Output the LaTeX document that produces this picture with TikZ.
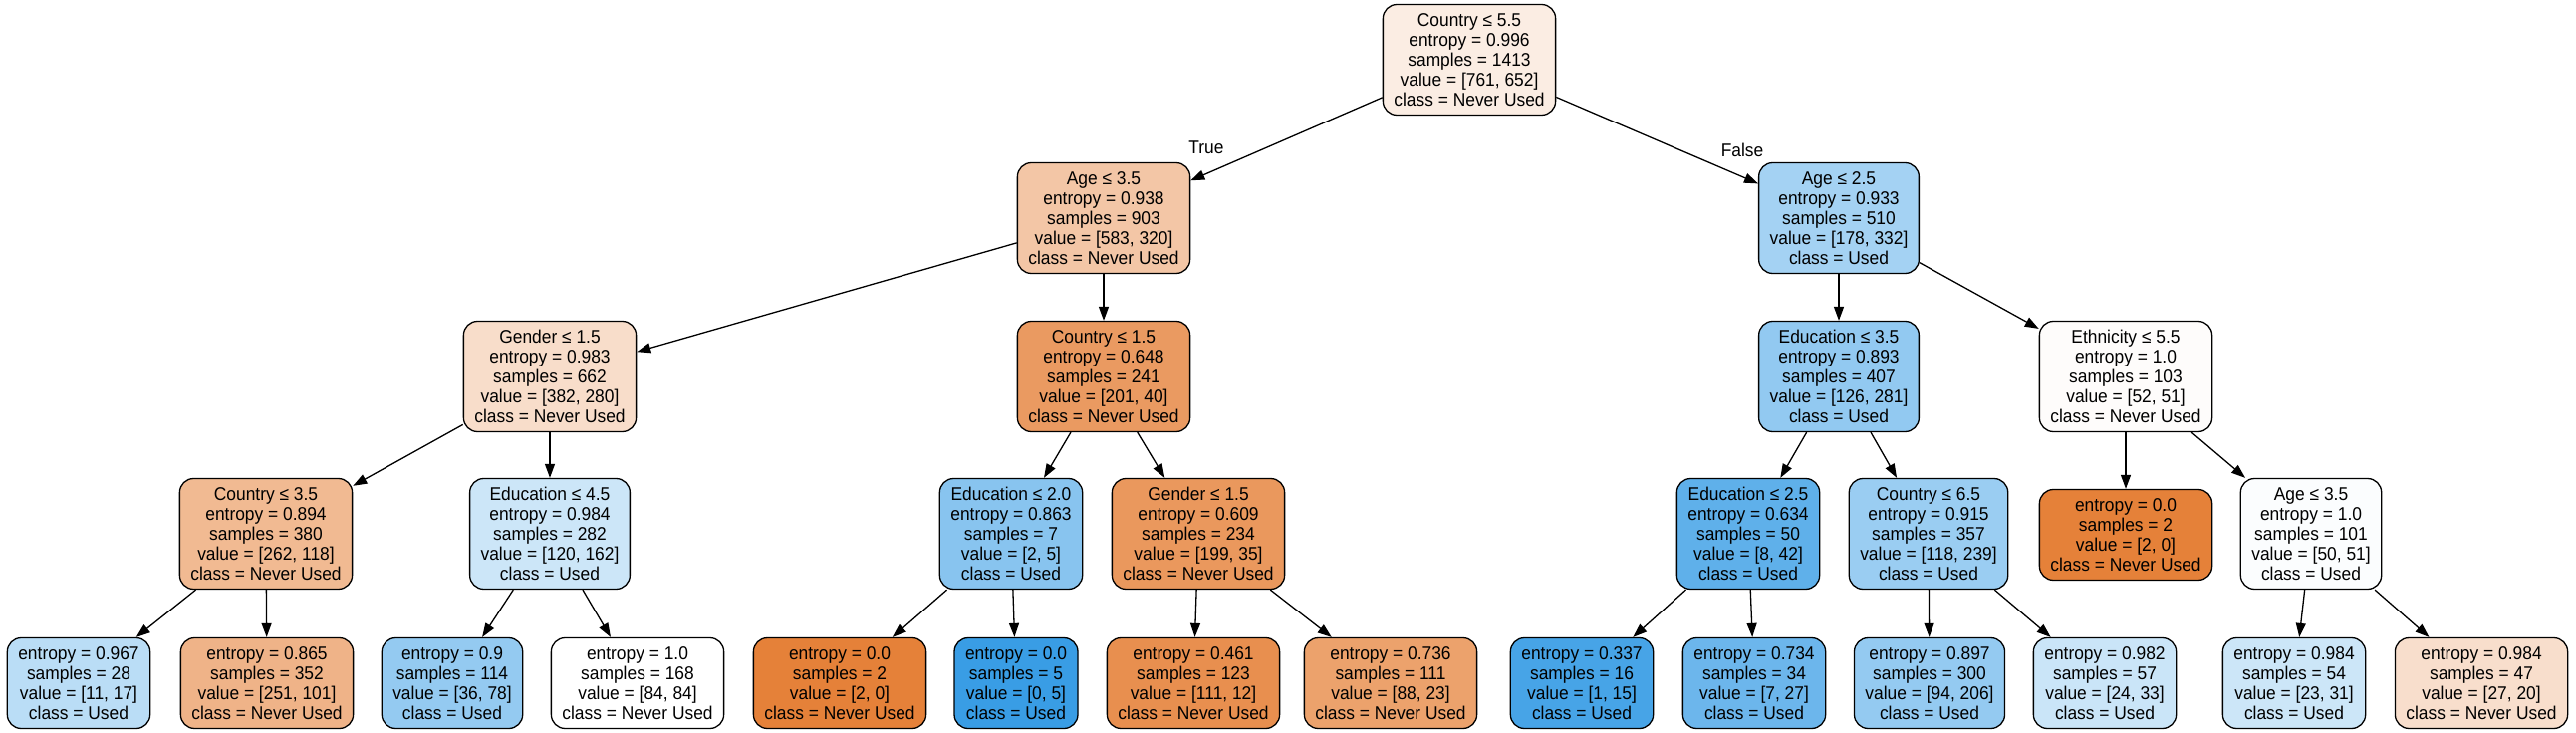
\documentclass[tikz,border=0pt]{standalone}
\usepackage{fontspec}
\setmainfont{Liberation Sans}[FakeStretch=0.94]
\usetikzlibrary{arrows.meta}
\definecolor{cO}{RGB}{229,129,57}
\definecolor{cB}{RGB}{57,157,229}
\newcommand\treefont{\fontsize{18.5}{20}\selectfont}
\tikzset{
  box/.style={draw, rounded corners=14pt, line width=1.3pt, align=center,
    inner xsep=11pt, inner ysep=0pt, font=\treefont},
  intn/.style={box, minimum height=111pt},
  leafn/.style={box, minimum height=91pt},
  conn/.style={-{Triangle[length=14pt,width=10pt]}, line width=1.3pt},
  elab/.style={font=\treefont, inner sep=0pt}
}
\begin{document}
\begin{tikzpicture}[x=1pt,y=-1pt]
\useasboundingbox (0,0) rectangle (2586,736);
% level 0
\node[intn, fill=cO!14!white] (r) at (1475,60) {Country ≤ 5.5\\entropy = 0.996\\samples = 1413\\value = [761, 652]\\class = Never Used};
% level 1
\node[intn, fill=cO!45!white] (a) at (1108,219) {Age ≤ 3.5\\entropy = 0.938\\samples = 903\\value = [583, 320]\\class = Never Used};
\node[intn, fill=cB!46!white] (b) at (1846,219) {Age ≤ 2.5\\entropy = 0.933\\samples = 510\\value = [178, 332]\\class = Used};
% level 2
\node[intn, fill=cO!27!white] (aa) at (552,378) {Gender ≤ 1.5\\entropy = 0.983\\samples = 662\\value = [382, 280]\\class = Never Used};
\node[intn, fill=cO!80!white] (ab) at (1108,378) {Country ≤ 1.5\\entropy = 0.648\\samples = 241\\value = [201, 40]\\class = Never Used};
\node[intn, fill=cB!55!white] (ba) at (1846,378) {Education ≤ 3.5\\entropy = 0.893\\samples = 407\\value = [126, 281]\\class = Used};
\node[intn, fill=cO!2!white] (bb) at (2134,378) {Ethnicity ≤ 5.5\\entropy = 1.0\\samples = 103\\value = [52, 51]\\class = Never Used};
% level 3
\node[intn, fill=cO!55!white] (aaa) at (267,536) {Country ≤ 3.5\\entropy = 0.894\\samples = 380\\value = [262, 118]\\class = Never Used};
\node[intn, fill=cB!26!white] (aab) at (552,536) {Education ≤ 4.5\\entropy = 0.984\\samples = 282\\value = [120, 162]\\class = Used};
\node[intn, fill=cB!60!white] (aba) at (1015,536) {Education ≤ 2.0\\entropy = 0.863\\samples = 7\\value = [2, 5]\\class = Used};
\node[intn, fill=cO!82!white] (abb) at (1203,536) {Gender ≤ 1.5\\entropy = 0.609\\samples = 234\\value = [199, 35]\\class = Never Used};
\node[intn, fill=cB!81!white] (baa) at (1755,536) {Education ≤ 2.5\\entropy = 0.634\\samples = 50\\value = [8, 42]\\class = Used};
\node[intn, fill=cB!51!white] (bab) at (1936,536) {Country ≤ 6.5\\entropy = 0.915\\samples = 357\\value = [118, 239]\\class = Used};
\node[leafn, fill=cO] (bba) at (2134,537) {entropy = 0.0\\samples = 2\\value = [2, 0]\\class = Never Used};
\node[intn, fill=cB!2!white] (bbb) at (2320,536) {Age ≤ 3.5\\entropy = 1.0\\samples = 101\\value = [50, 51]\\class = Used};
% level 4
\node[leafn, fill=cB!35!white] (l1) at (79,686) {entropy = 0.967\\samples = 28\\value = [11, 17]\\class = Used};
\node[leafn, fill=cO!60!white] (l2) at (268,686) {entropy = 0.865\\samples = 352\\value = [251, 101]\\class = Never Used};
\node[leafn, fill=cB!54!white] (l3) at (454,686) {entropy = 0.9\\samples = 114\\value = [36, 78]\\class = Used};
\node[leafn, fill=white] (l4) at (640,686) {entropy = 1.0\\samples = 168\\value = [84, 84]\\class = Never Used};
\node[leafn, fill=cO] (l5) at (843,686) {entropy = 0.0\\samples = 2\\value = [2, 0]\\class = Never Used};
\node[leafn, fill=cB] (l6) at (1020,686) {entropy = 0.0\\samples = 5\\value = [0, 5]\\class = Used};
\node[leafn, fill=cO!89!white] (l7) at (1198,686) {entropy = 0.461\\samples = 123\\value = [111, 12]\\class = Never Used};
\node[leafn, fill=cO!74!white] (l8) at (1396,686) {entropy = 0.736\\samples = 111\\value = [88, 23]\\class = Never Used};
\node[leafn, fill=cB!93!white] (l9) at (1588,686) {entropy = 0.337\\samples = 16\\value = [1, 15]\\class = Used};
\node[leafn, fill=cB!74!white] (l10) at (1761,686) {entropy = 0.734\\samples = 34\\value = [7, 27]\\class = Used};
\node[leafn, fill=cB!54!white] (l11) at (1937,686) {entropy = 0.897\\samples = 300\\value = [94, 206]\\class = Used};
\node[leafn, fill=cB!27!white] (l12) at (2113,686) {entropy = 0.982\\samples = 57\\value = [24, 33]\\class = Used};
\node[leafn, fill=cB!26!white] (l13) at (2303,686) {entropy = 0.984\\samples = 54\\value = [23, 31]\\class = Used};
\node[leafn, fill=cO!26!white] (l14) at (2491,686) {entropy = 0.984\\samples = 47\\value = [27, 20]\\class = Never Used};
% edges
\draw[conn] (r) -- (a);
\draw[conn] (r) -- (b);
\node[elab] (tl) at (1211,148) {True};
\node[elab] (fl) at (1749,151) {False};
\draw[conn] (a) -- (aa);
\draw[conn] (a) -- (ab);
\draw[conn] (b) -- (ba);
\draw[conn] (b) -- (bb);
\draw[conn] (aa) -- (aaa);
\draw[conn] (aa) -- (aab);
\draw[conn] (ab) -- (aba);
\draw[conn] (ab) -- (abb);
\draw[conn] (ba) -- (baa);
\draw[conn] (ba) -- (bab);
\draw[conn] (bb) -- (bba);
\draw[conn] (bb) -- (bbb);
\draw[conn] (aaa) -- (l1);
\draw[conn] (aaa) -- (l2);
\draw[conn] (aab) -- (l3);
\draw[conn] (aab) -- (l4);
\draw[conn] (aba) -- (l5);
\draw[conn] (aba) -- (l6);
\draw[conn] (abb) -- (l7);
\draw[conn] (abb) -- (l8);
\draw[conn] (baa) -- (l9);
\draw[conn] (baa) -- (l10);
\draw[conn] (bab) -- (l11);
\draw[conn] (bab) -- (l12);
\draw[conn] (bbb) -- (l13);
\draw[conn] (bbb) -- (l14);
\end{tikzpicture}
\end{document}
